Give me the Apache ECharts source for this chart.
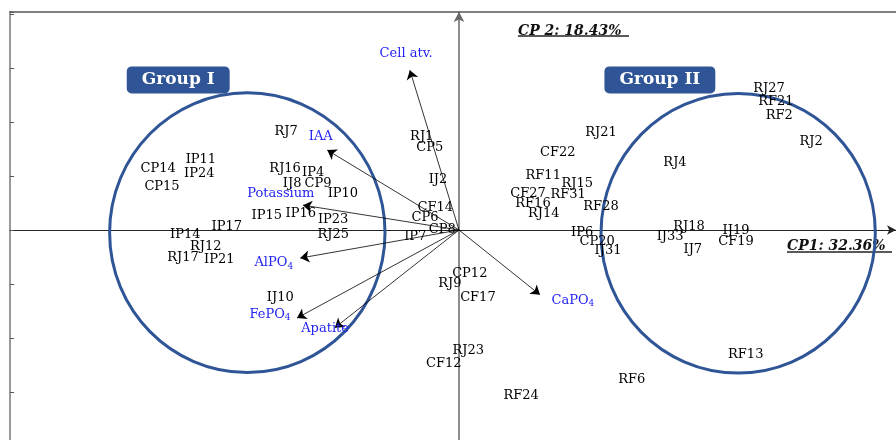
<!DOCTYPE html>
<html>
<head>
<meta charset="utf-8">
<script src="https://cdn.jsdelivr.net/npm/echarts@6/dist/echarts.min.js"></script>
<style>
  html, body { margin: 0; padding: 0; background: #fff; }
  #chart { width: 896px; height: 440px; }
</style>
</head>
<body>
<div id="chart"></div>
<script>
// sample scores (CP1, CP2)
var sampleNames = ["RJ7", "RJ1", "CP5", "CP14", "IP11", "IP24", "CP15", "RJ16", "IP4", "IJ8", "CP9", "IP10",
  "IJ2", "CF14", "CP6", "CP8", "IP15", "IP16", "IP23", "IP17", "IP14", "RJ25", "IP7", "RJ12", "RJ17", "IP21",
  "IJ10", "RJ27", "RF21", "RF2", "RJ21", "RJ2", "CF22", "RJ4", "RF11", "RJ15", "CF27", "RF31", "RF16", "RF28",
  "RJ14", "IP6", "RJ18", "IJ19", "IJ33", "CF19", "CP20", "IJ31", "IJ7", "CP12", "RJ9", "CF17", "RJ23", "CF12",
  "RF13", "RF6", "RF24"];
var sampleX = [-3.20, -0.69, -0.54, -5.57, -4.78, -4.81, -5.50, -3.22, -2.70, -3.09, -2.61, -2.15,
  -0.39, -0.44, -0.63, -0.31, -3.56, -2.93, -2.33, -4.30, -5.07, -2.33, -0.81, -4.69, -5.11, -4.44,
  -3.31, 5.74, 5.87, 5.93, 2.63, 6.52, 1.83, 4.00, 1.56, 2.19, 1.28, 2.02, 1.37, 2.63,
  1.57, 2.28, 4.26, 5.13, 3.91, 5.13, 2.56, 2.76, 4.33, 0.20, -0.17, 0.35, 0.17, -0.28,
  5.31, 3.20, 1.15];
var sampleY = [1.83, 1.72, 1.52, 1.13, 1.30, 1.04, 0.81, 1.13, 1.07, 0.85, 0.85, 0.67,
  0.93, 0.41, 0.22, 0.00, 0.26, 0.30, 0.20, 0.07, -0.09, -0.09, -0.13, -0.31, -0.52, -0.54,
  -1.26, 2.61, 2.37, 2.11, 1.81, 1.63, 1.43, 1.24, 1.00, 0.85, 0.67, 0.65, 0.48, 0.44,
  0.31, -0.04, 0.07, -0.02, -0.13, -0.22, -0.22, -0.39, -0.37, -0.80, -1.00, -1.26, -2.24, -2.48,
  -2.31, -2.78, -3.07];

// variable loadings (arrow tips) and where their names sit
var varNames = ["Cell atv.", "IAA", "Potassium", "AlPO{s|4}", "FePO{s|4}", "Apatite", "CaPO{s|4}"];
var varX = [-0.91, -2.44, -2.89, -2.94, -3.00, -2.30, 1.50];
var varY = [2.96, 1.48, 0.46, -0.52, -1.63, -1.81, -1.20];
var varLabelX = [-0.98, -2.56, -3.30, -3.43, -3.50, -2.48, 2.11];
var varLabelY = [3.26, 1.72, 0.67, -0.61, -1.56, -1.83, -1.30];

// groups: centre, radii, label box position
var groupNames = ["Group I", "Group II"];
var groupCx = [-3.92, 5.17];
var groupCy = [-0.05, -0.06];
var groupRx = [2.55, 2.54];
var groupRy = [2.59, 2.59];
var groupLabelX = [-5.20, 3.72];
var groupLabelY = [2.78, 2.78];

var xMin = -8.315, xMax = 8.093;
var yMin = -4, yMax = 4.037;

var chart = echarts.init(document.getElementById("chart"));

var samples = [];
for (var i = 0; i < sampleNames.length; i++) {
  samples.push({ name: sampleNames[i], value: [sampleX[i], sampleY[i]] });
}
var arrows = [];
var varLabels = [];
for (var j = 0; j < varNames.length; j++) {
  arrows.push({ coords: [[0, 0], [varX[j], varY[j]]] });
  varLabels.push({ name: varNames[j], value: [varLabelX[j], varLabelY[j]] });
}
var ellipses = [];
var groupLabels = [];
for (var k = 0; k < groupNames.length; k++) {
  ellipses.push([groupCx[k], groupCy[k], groupRx[k], groupRy[k]]);
  groupLabels.push({ name: groupNames[k], value: [groupLabelX[k], groupLabelY[k]] });
}

var labelFont = "DejaVu Serif";
var hidden = { color: "rgba(0,0,0,0)", opacity: 1 };

var option = {
  animation: false,
  grid: { left: 10, top: 12, width: 886, height: 434, outerBoundsMode: "none" },
  xAxis: [
    {
      type: "value", min: xMin, max: xMax,
      axisLine: { onZero: true, onZeroAxisIndex: 0, symbol: ["none", "arrow"], symbolSize: [7, 9],
        lineStyle: { color: "#222", width: 1 } },
      axisTick: { show: false }, axisLabel: { show: false }, splitLine: { show: false }
    },
    {
      type: "value", position: "top", min: xMin, max: xMax,
      axisLine: { onZero: false, lineStyle: { color: "#555", width: 1.5 } },
      axisTick: { show: false }, axisLabel: { show: false }, splitLine: { show: false }
    }
  ],
  yAxis: [
    {
      type: "value", min: yMin, max: yMax, interval: 1,
      axisLine: { onZero: true, symbol: ["none", "arrow"], symbolSize: [8, 10],
        lineStyle: { color: "#666", width: 1.5 } },
      axisTick: { show: false }, axisLabel: { show: false }, splitLine: { show: false }
    },
    {
      type: "value", position: "left", min: yMin, max: yMax, interval: 1,
      axisLine: { onZero: false, lineStyle: { color: "#9a9a9a", width: 2 } },
      axisTick: { inside: true, length: 4, lineStyle: { color: "#555", width: 1 } },
      axisLabel: { show: false }, splitLine: { show: false }
    }
  ],
  series: [
    {
      type: "custom",
      renderItem: function (params, api) {
        var c = api.coord([api.value(0), api.value(1)]);
        var s = api.size([api.value(2), api.value(3)]);
        return {
          type: "ellipse",
          shape: { cx: c[0], cy: c[1], rx: s[0], ry: s[1] },
          style: { fill: "none", stroke: "#2F5597", lineWidth: 3 }
        };
      },
      data: ellipses,
      z: 1
    },
    {
      type: "lines",
      coordinateSystem: "cartesian2d",
      symbol: ["none", "arrow"],
      symbolSize: 9,
      lineStyle: { color: "#000", width: 0.8, opacity: 1 },
      data: arrows,
      z: 2
    },
    {
      type: "scatter",
      symbolSize: 1,
      itemStyle: hidden,
      label: {
        show: true, position: "inside", formatter: "{b}",
        color: "#000", fontFamily: labelFont, fontSize: 13
      },
      data: samples,
      z: 3
    },
    {
      type: "scatter",
      symbolSize: 1,
      itemStyle: hidden,
      label: {
        show: true, position: "inside", formatter: "{b}",
        color: "#2424f2", fontFamily: labelFont, fontSize: 13,
        rich: { s: { color: "#2424f2", fontFamily: labelFont, fontSize: 9, padding: [7, 0, 0, 0] } }
      },
      data: varLabels,
      z: 3
    },
    {
      type: "scatter",
      symbolSize: 1,
      itemStyle: hidden,
      label: {
        show: true, position: "inside", formatter: "{b}",
        color: "#fff", fontFamily: labelFont, fontWeight: "bold", fontSize: 17,
        backgroundColor: "#2F5597", borderRadius: 5, padding: [5, 15, 5, 15]
      },
      data: groupLabels,
      z: 4
    }
  ],
  graphic: [
    { type: "text", left: 518, top: 24,
      style: { text: "CP 2: 18.43%", font: 'italic bold 14px "DejaVu Serif"', fill: "#111" } },
    { type: "line", shape: { x1: 518, y1: 36, x2: 629, y2: 36 }, style: { stroke: "#222", lineWidth: 1.5 } },
    { type: "text", left: 787, top: 239,
      style: { text: "CP1: 32.36%", font: 'italic bold 14px "DejaVu Serif"', fill: "#111" } },
    { type: "line", shape: { x1: 787, y1: 252, x2: 892, y2: 252 }, style: { stroke: "#222", lineWidth: 1.5 } }
  ]
};

chart.setOption(option);
</script>
</body>
</html>
